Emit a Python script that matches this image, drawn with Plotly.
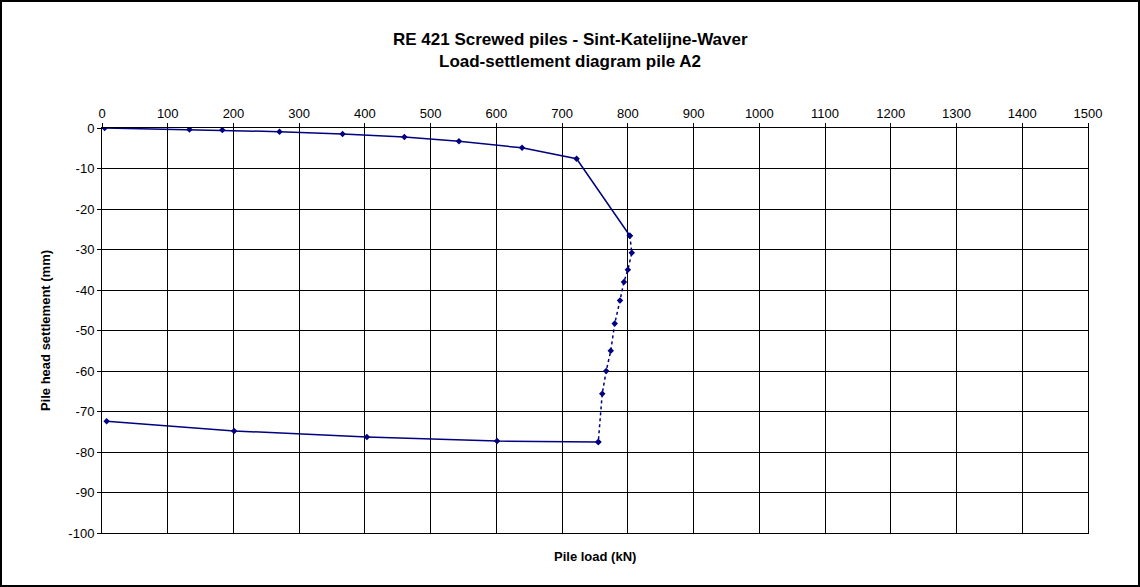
import plotly.graph_objects as go

# Loading stage (solid line)
load_up = [4, 133, 183, 270, 366, 460, 543, 639, 722, 803]
settle_up = [0, -0.35, -0.5, -0.9, -1.5, -2.2, -3.3, -4.9, -7.6, -26.6]

# Creep at maximum load (dotted line)
load_creep = [803, 806, 800, 794, 788, 780, 774, 767, 761, 755]
settle_creep = [-26.6, -30.8, -35.0, -38.0, -42.6, -48.3, -55.0, -60.0, -65.6, -77.5]

# Unloading stage (solid line)
load_down = [755, 601, 403, 201, 7]
settle_down = [-77.5, -77.3, -76.3, -74.8, -72.4]

x_ticks = list(range(0, 1501, 100))
y_ticks = list(range(-100, 1, 10))
y_tick_text = [str(v) for v in y_ticks]  # plain hyphen-minus labels

NAVY = "#000080"
FONT = "Liberation Sans, Arial, sans-serif"

W, H = 1140, 587
ML, MR, MT, MB = 102, 52, 128, 54
PW, PH = W - ML - MR, H - MT - MB


def px_to_paper_x(px):
    return (px - ML) / PW


def px_to_paper_y(py):
    return (H - MB - py) / PH


fig = go.Figure()

marker = dict(symbol="diamond", size=5, color=NAVY)

fig.add_trace(go.Scatter(x=load_up, y=settle_up, mode="lines+markers",
                         line=dict(color=NAVY, width=1.5), marker=marker,
                         showlegend=False))
fig.add_trace(go.Scatter(x=load_creep, y=settle_creep, mode="lines+markers",
                         line=dict(color=NAVY, width=1.5, dash="dot"), marker=marker,
                         showlegend=False))
fig.add_trace(go.Scatter(x=load_down, y=settle_down, mode="lines+markers",
                         line=dict(color=NAVY, width=1.5), marker=marker,
                         showlegend=False))

axis_common = dict(
    showgrid=True, gridcolor="#000000", gridwidth=1,
    showline=True, linecolor="#000000", linewidth=1, mirror=True,
    ticks="outside", ticklen=4, tickcolor="#000000",
    zeroline=False,
    tickfont=dict(family=FONT, size=13, color="#000000"),
)

fig.update_xaxes(range=[0, 1500], tickvals=x_ticks, side="top", **axis_common)
fig.update_yaxes(range=[-100, 0], tickvals=y_ticks, ticktext=y_tick_text,
                 **axis_common,
                 title=dict(text="<b>Pile head settlement (mm)</b>",
                            font=dict(family=FONT, size=13, color="#000000"),
                            standoff=14))

# Chart title is centred on the whole figure, axis title on the plot area
annotations = [
    dict(text="<b>RE 421 Screwed piles - Sint-Katelijne-Waver</b>",
         x=px_to_paper_x(W / 2), y=px_to_paper_y(39), xref="paper", yref="paper",
         showarrow=False, font=dict(family=FONT, size=17, color="#000000"),
         xanchor="center", yanchor="middle"),
    dict(text="<b>Load-settlement diagram pile A2</b>",
         x=px_to_paper_x(W / 2), y=px_to_paper_y(61), xref="paper", yref="paper",
         showarrow=False, font=dict(family=FONT, size=17, color="#000000"),
         xanchor="center", yanchor="middle"),
    dict(text="<b>Pile load (kN)</b>",
         x=0.5, y=px_to_paper_y(556), xref="paper", yref="paper",
         showarrow=False, font=dict(family=FONT, size=13, color="#000000"),
         xanchor="center", yanchor="middle"),
]

# Border around the whole chart
shapes = [
    dict(type="rect", xref="paper", yref="paper",
         x0=px_to_paper_x(1), x1=px_to_paper_x(W - 1),
         y0=px_to_paper_y(H - 1), y1=px_to_paper_y(1),
         line=dict(color="#000000", width=2), fillcolor="rgba(0,0,0,0)",
         layer="above"),
]

fig.update_layout(
    width=W, height=H,
    margin=dict(l=ML, r=MR, t=MT, b=MB),
    paper_bgcolor="#ffffff", plot_bgcolor="#ffffff",
    annotations=annotations, shapes=shapes,
    font=dict(family=FONT, color="#000000"),
)

fig.write_html("out.html")
